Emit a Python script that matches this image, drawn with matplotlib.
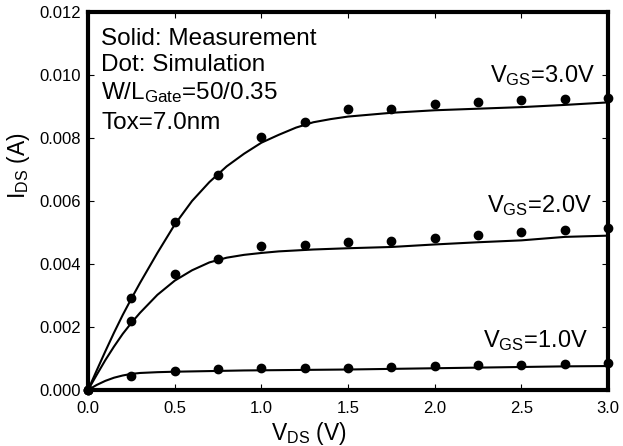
import matplotlib
matplotlib.use('Agg')
import matplotlib.pyplot as plt
import numpy as np

plt.rcParams['font.family'] = ['Liberation Sans', 'DejaVu Sans']
plt.rcParams['mathtext.fontset'] = 'custom'
plt.rcParams['mathtext.rm'] = 'Liberation Sans'
plt.rcParams['mathtext.it'] = 'Liberation Sans:italic'

# simulation (dots)
vds_sim = [0.0, 0.25, 0.5, 0.75, 1.0, 1.25, 1.5, 1.75, 2.0, 2.25, 2.5, 2.75, 3.0]
sim_3v = [0, 2.93, 5.32, 6.83, 8.02, 8.50, 8.91, 8.93, 9.09, 9.15, 9.21, 9.24, 9.28]
sim_2v = [0, 2.19, 3.69, 4.17, 4.58, 4.61, 4.70, 4.74, 4.81, 4.91, 5.03, 5.08, 5.13]
sim_1v = [0, 0.45, 0.60, 0.68, 0.70, 0.71, 0.70, 0.74, 0.77, 0.78, 0.80, 0.83, 0.85]

# measurement (solid)
vds_meas = [0.0, 0.05, 0.1, 0.15, 0.2, 0.25, 0.3, 0.4, 0.5, 0.6, 0.7, 0.8, 0.9,
            1.0, 1.1, 1.2, 1.3, 1.4, 1.5, 1.75, 2.0, 2.25, 2.5, 2.75, 3.0]
meas_3v = [0, 0.62, 1.23, 1.82, 2.38, 2.90, 3.40, 4.35, 5.25, 6.00, 6.60, 7.10, 7.50,
           7.85, 8.10, 8.33, 8.50, 8.60, 8.68, 8.80, 8.88, 8.93, 8.98, 9.05, 9.13]
meas_2v = [0, 0.48, 0.95, 1.38, 1.78, 2.13, 2.45, 3.02, 3.47, 3.80, 4.05, 4.20, 4.29,
           4.35, 4.40, 4.43, 4.46, 4.48, 4.50, 4.54, 4.62, 4.69, 4.75, 4.86, 4.90]
meas_1v = [0, 0.16, 0.29, 0.39, 0.46, 0.51, 0.54, 0.565, 0.58, 0.59, 0.60, 0.61, 0.62,
           0.625, 0.63, 0.635, 0.64, 0.645, 0.65, 0.67, 0.69, 0.71, 0.73, 0.75, 0.76]

curve_labels = [r'V$_{\rm GS}$=3.0V', r'V$_{\rm GS}$=2.0V', r'V$_{\rm GS}$=1.0V']
label_pos = [(2.32, 0.00978), (2.30, 0.00566), (2.28, 0.001375)]

fig = plt.figure(figsize=(6.23, 4.46), dpi=100)
ax = fig.add_axes([0.1413, 0.1256, 0.8347, 0.8475])

for meas, sim in [(meas_3v, sim_3v), (meas_2v, sim_2v), (meas_1v, sim_1v)]:
    ax.plot(vds_meas, np.array(meas) * 1e-3, color='black', lw=1.5, zorder=3)
    ax.plot(vds_sim, np.array(sim) * 1e-3, 'o', color='black', ms=6,
            clip_on=False, zorder=5)

for lab, (x, y) in zip(curve_labels, label_pos):
    ax.text(x, y, lab, fontsize=17, va='baseline', ha='left')

info = ['Solid: Measurement', 'Dot: Simulation',
        r'W/L$_{\rm Gate}$=50/0.35', 'Tox=7.0nm']
info_y = [0.01149, 0.01067, 0.00984, 0.00883]
for t, y in zip(info, info_y):
    ax.text(0.075, y, t, fontsize=17.5, va='top', ha='left')

ax.set_xlim(0, 3.0)
ax.set_ylim(0, 0.012)
ax.set_xticks(np.arange(0, 3.01, 0.5))
ax.set_xticklabels(['%.1f' % v for v in np.arange(0, 3.01, 0.5)])
ax.set_yticks(np.arange(0, 0.0121, 0.002))
ax.set_yticklabels(['%.3f' % v for v in np.arange(0, 0.0121, 0.002)])
ax.tick_params(direction='in', length=4, width=0.8, top=True, right=True,
               labelsize=12)
ax.tick_params(axis='x', pad=8)
ax.tick_params(axis='y', pad=5)
for s in ax.spines.values():
    s.set_linewidth(3)

ax.set_xlabel(r'V$_{\rm DS}$ (V)', fontsize=16.5)
ax.xaxis.set_label_coords(0.425, -0.079)
ax.set_ylabel(r'I$_{\rm DS}$ (A)', fontsize=16.5)
ax.yaxis.set_label_coords(-0.108, 0.593)

fig.savefig('out.png', dpi=100)
